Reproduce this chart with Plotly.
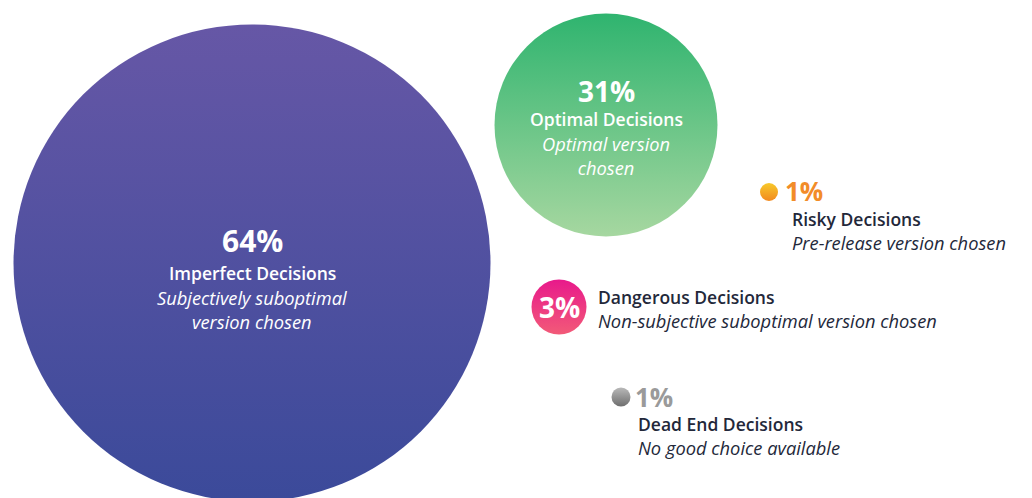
import plotly.graph_objects as go

# decision categories and their shares
categories = ["Imperfect Decisions", "Optimal Decisions", "Dangerous Decisions",
              "Risky Decisions", "Dead End Decisions"]
shares = [64, 31, 3, 1, 1]
descriptions = [
    "Subjectively suboptimal<br>version chosen",
    "Optimal version<br>chosen",
    "Non-subjective suboptimal version chosen",
    "Pre-release version chosen",
    "No good choice available",
]

# bubble layout (canvas units, 1 unit = 1 px)
bubble_x = [252, 606, 559, 769, 621]
bubble_y = [263, 125, 307, 192, 397]
bubble_d = [477, 223, 55, 18, 19]
fill_top = ["#6657A6", "#2FB46F", "#E8198B", "#F7C92A", "#B9B9B9"]
fill_bottom = ["#3B4A9A", "#A6D7A0", "#F25A78", "#F2891F", "#6E6E6E"]

FONT = "Open Sans"
DARK = "#23283A"
TITLE = 17.5
DESC = 18.3

fig = go.Figure()

for i in range(len(categories)):
    fig.add_trace(go.Scatter(
        x=[bubble_x[i]],
        y=[bubble_y[i]],
        mode="markers",
        marker=dict(
            size=bubble_d[i],
            sizemode="diameter",
            color=fill_top[i],
            gradient=dict(type="vertical", color=fill_bottom[i]),
            line=dict(width=0),
        ),
        hoverinfo="skip",
        showlegend=False,
    ))


def label(x, y, text, size, color, weight=400, italic=False, anchor="center"):
    if italic:
        text = "<i>" + text + "</i>"
    fig.add_annotation(
        x=x, y=y, text=text, showarrow=False,
        xanchor=anchor, yanchor="middle", align=anchor if anchor != "center" else "center",
        borderpad=0,
        font=dict(family=FONT, size=size, color=color, weight=weight),
    )


# big bubbles: text inside
label(bubble_x[0], 240, f"{shares[0]}%", 30, "white", weight=700)
label(bubble_x[0], 273, categories[0], TITLE, "white", weight=600)
label(bubble_x[0], 309.5, descriptions[0], DESC, "white", italic=True)

label(bubble_x[1], 91, f"{shares[1]}%", 28, "white", weight=700)
label(bubble_x[1], 119, categories[1], TITLE, "white", weight=600)
label(bubble_x[1], 155, descriptions[1], DESC, "white", italic=True)

# dangerous
label(bubble_x[2], 307, f"{shares[2]}%", 28, "white", weight=700)
label(597, 297, categories[2], TITLE, DARK, weight=600, anchor="left")
label(597, 320, descriptions[2], DESC, DARK, italic=True, anchor="left")

# risky
label(784, 191, f"{shares[3]}%", 26, "#F28C28", weight=700, anchor="left")
label(791, 219, categories[3], TITLE, DARK, weight=600, anchor="left")
label(791, 242, descriptions[3], DESC, DARK, italic=True, anchor="left")

# dead end
label(634, 397, f"{shares[4]}%", 26, "#9A9A9A", weight=700, anchor="left")
label(637, 424, categories[4], TITLE, DARK, weight=600, anchor="left")
label(637, 447, descriptions[4], DESC, DARK, italic=True, anchor="left")

# page body adds an 8 px offset, so shift the ranges to keep canvas positions
fig.update_xaxes(range=[8, 1040], visible=False, fixedrange=True)
fig.update_yaxes(range=[506, 8], visible=False, fixedrange=True)
fig.update_layout(
    width=1032,
    height=498,
    margin=dict(l=0, r=0, t=0, b=0),
    paper_bgcolor="white",
    plot_bgcolor="white",
    font=dict(family=FONT),
)

fig.write_html("out.html")
